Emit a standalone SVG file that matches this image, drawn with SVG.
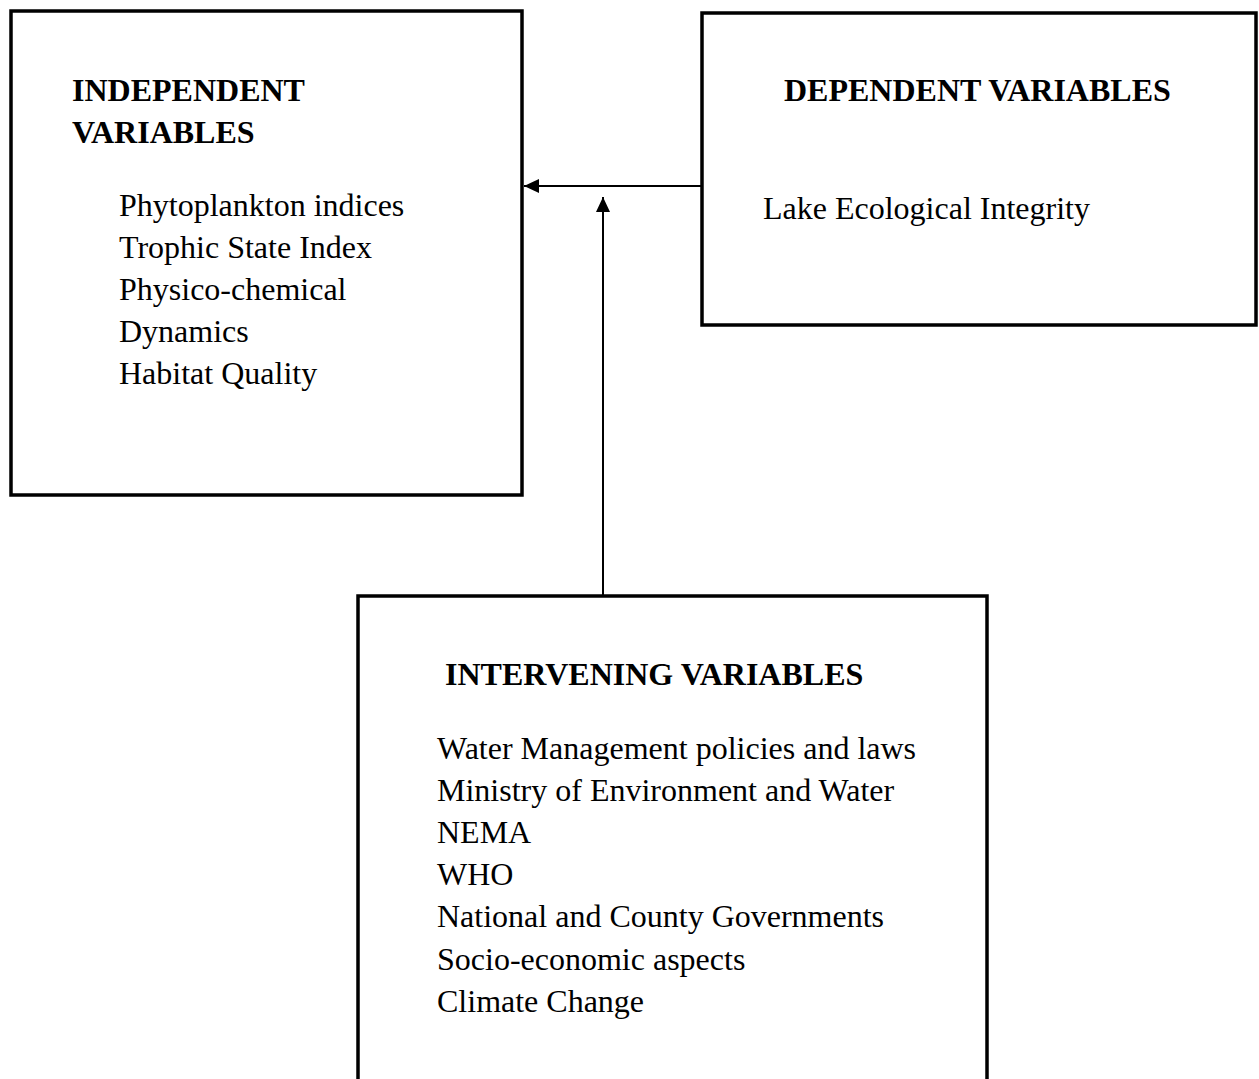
<svg xmlns="http://www.w3.org/2000/svg" width="1259" height="1079" viewBox="0 0 1259 1079">
<style>
.box{fill:#fff;stroke:#000;stroke-width:3.5}
.h{font-family:"Liberation Serif","Times New Roman",serif;font-size:32px;font-weight:bold;fill:#000}
.t{font-family:"Liberation Serif","Times New Roman",serif;font-size:32px;fill:#000}
.c{stroke:#000;stroke-width:2;fill:none}
</style>
<defs>
<marker id="ah" markerWidth="15" markerHeight="14" refX="15" refY="7" orient="auto" markerUnits="userSpaceOnUse">
<path d="M0,0 L15,7 L0,14 Z" fill="#000"/>
</marker>
</defs>
<rect width="1259" height="1079" fill="#fff"/>
<g id="independent">
<rect class="box" x="11" y="11" width="511" height="484"/>
<text class="h" x="72" y="101">INDEPENDENT</text>
<text class="h" x="72" y="143">VARIABLES</text>
<text class="t" x="119" y="216">Phytoplankton indices</text>
<text class="t" x="119" y="258">Trophic State Index</text>
<text class="t" x="119" y="300">Physico-chemical</text>
<text class="t" x="119" y="342">Dynamics</text>
<text class="t" x="119" y="384">Habitat Quality</text>
</g>
<g id="dependent">
<rect class="box" x="702" y="13" width="554" height="312"/>
<text class="h" x="784" y="101">DEPENDENT VARIABLES</text>
<text class="t" x="763" y="219">Lake Ecological Integrity</text>
</g>
<g id="intervening">
<rect class="box" x="358" y="596" width="629" height="500"/>
<text class="h" x="445" y="685">INTERVENING VARIABLES</text>
<text class="t" x="437" y="759">Water Management policies and laws</text>
<text class="t" x="437" y="801">Ministry of Environment and Water</text>
<text class="t" x="437" y="843">NEMA</text>
<text class="t" x="437" y="885">WHO</text>
<text class="t" x="437" y="927">National and County Governments</text>
<text class="t" x="437" y="970">Socio-economic aspects</text>
<text class="t" x="437" y="1012">Climate Change</text>
</g>
<g id="connectors">
<line class="c" x1="701" y1="186" x2="524" y2="186" marker-end="url(#ah)"/>
<line class="c" x1="603" y1="595" x2="603" y2="197" marker-end="url(#ah)"/>
</g>
</svg>
